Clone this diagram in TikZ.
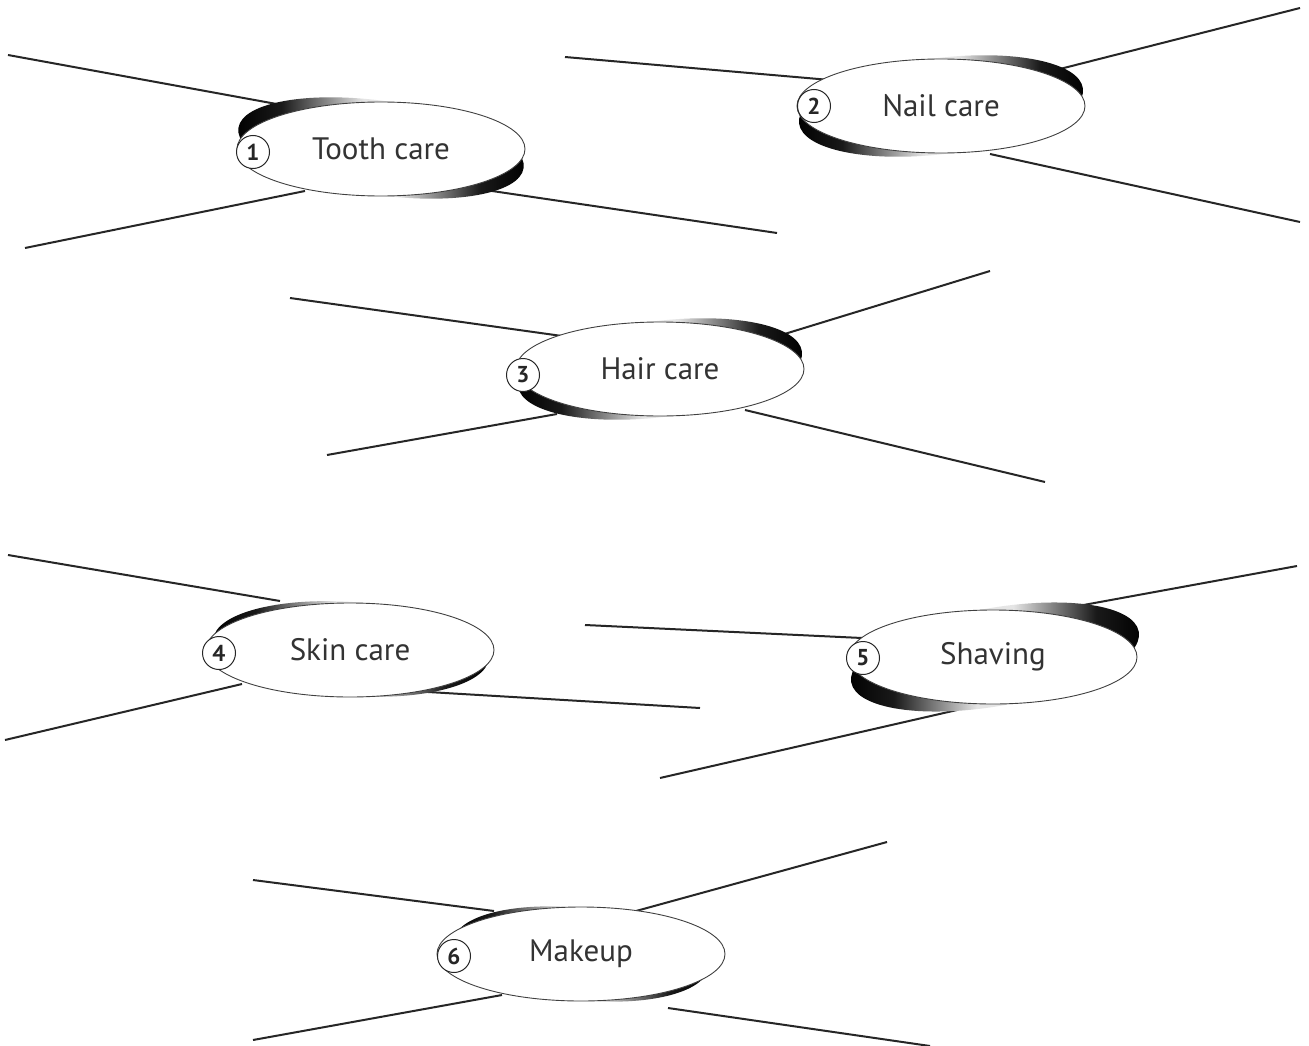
\documentclass[tikz,border=0pt]{standalone}
\usepackage{fontspec}
\setmainfont{PT Sans}
\usetikzlibrary{shapes.geometric}
\pgfdeclarehorizontalshading{rimshade}{100bp}{color(0bp)=(black); color(25bp)=(black); color(33bp)=(black!90); color(41bp)=(black!45); color(47bp)=(black!10); color(53bp)=(black!10); color(59bp)=(black!45); color(67bp)=(black!90); color(75bp)=(black); color(100bp)=(black)}
% #1,#2 centre, #3 angle, #4,#5 radii, #6 shift
\newcommand{\rimshadow}[6]{\shade[shading=rimshade, shift={#6}, rotate around={#3:(#1,#2)}] (#1,#2) ellipse [x radius=#4pt, y radius=#5pt];}
\begin{document}
\begin{tikzpicture}[x=1pt,y=-1pt,
  wire/.style={line width=2pt, draw=black!85},
  topic/.style={ellipse, draw=black!75, line width=0.9pt, fill=white, inner sep=0pt,
    minimum width=288pt, minimum height=94pt, text=black!80,
    font=\fontsize{31}{36}\selectfont},
  numcircle/.style={circle, draw=black!85, line width=1pt, fill=white, inner sep=0pt,
    minimum size=33pt, text=black!85, font=\bfseries\fontsize{23}{27}\selectfont}]
\useasboundingbox (0,0) rectangle (1309,1046);
\fill[white] (0,0) rectangle (1309,1046);

% connector ends
\coordinate (a1) at (8,55);    \coordinate (a2) at (282,105);
\coordinate (a3) at (25,248);  \coordinate (a4) at (305,191);
\coordinate (a5) at (492,191); \coordinate (a6) at (777,233);
\coordinate (b1) at (565,57);  \coordinate (b2) at (830,80);
\coordinate (b3) at (1052,71); \coordinate (b4) at (1300,8);
\coordinate (b5) at (990,154); \coordinate (b6) at (1300,222);
\coordinate (c1) at (290,298); \coordinate (c2) at (562,336);
\coordinate (c3) at (778,336); \coordinate (c4) at (990,271);
\coordinate (c5) at (327,455); \coordinate (c6) at (557,414);
\coordinate (c7) at (745,410); \coordinate (c8) at (1045,482);
\coordinate (d1) at (8,555);   \coordinate (d2) at (280,601);
\coordinate (d3) at (5,740);   \coordinate (d4) at (242,684);
\coordinate (d5) at (428,692); \coordinate (d6) at (700,708);
\coordinate (e1) at (585,625); \coordinate (e2) at (862,638);
\coordinate (e3) at (1078,606);\coordinate (e4) at (1297,566);
\coordinate (e5) at (660,778); \coordinate (e6) at (957,710);
\coordinate (f1) at (253,880); \coordinate (f2) at (494,911);
\coordinate (f3) at (636,911); \coordinate (f4) at (887,842);
\coordinate (f5) at (253,1040);\coordinate (f6) at (502,995);
\coordinate (f7) at (668,1008);\coordinate (f8) at (930,1046);

\draw[wire] (a1) -- (a2); \draw[wire] (a3) -- (a4); \draw[wire] (a5) -- (a6);
\draw[wire] (b1) -- (b2); \draw[wire] (b3) -- (b4); \draw[wire] (b5) -- (b6);
\draw[wire] (c1) -- (c2); \draw[wire] (c3) -- (c4); \draw[wire] (c5) -- (c6); \draw[wire] (c7) -- (c8);
\draw[wire] (d1) -- (d2); \draw[wire] (d3) -- (d4); \draw[wire] (d5) -- (d6);
\draw[wire] (e1) -- (e2); \draw[wire] (e3) -- (e4); \draw[wire] (e5) -- (e6);
\draw[wire] (f1) -- (f2); \draw[wire] (f3) -- (f4); \draw[wire] (f5) -- (f6); \draw[wire] (f7) -- (f8);

% shadows
\rimshadow{381}{149}{-8}{144}{47}{(0,-1)}
\rimshadow{941}{106}{7}{143}{48}{(0,0)}
\rimshadow{660}{369}{7}{143}{48}{(0,0)}
\rimshadow{351}{650}{-4}{138}{47}{(0,-1)}
\rimshadow{993}{657}{10}{146}{49}{(2,0)}
\rimshadow{581}{954}{-6}{128}{46}{(0,0)}

% topics
\node[topic] (t1) at (381,149) {Tooth care};
\node[topic] (t2) at (941,106) {Nail care};
\node[topic] (t3) at (660,369) {Hair care};
\node[topic] (t4) at (350,650) {Skin care};
\node[topic] (t5) at (993,657) {Shaving};
\node[topic] (t6) at (581,954) {Makeup};

\node[numcircle] (n1) at (253,152) {1};
\node[numcircle] (n2) at (814,106) {2};
\node[numcircle] (n3) at (523,375) {3};
\node[numcircle] (n4) at (219,653) {4};
\node[numcircle] (n5) at (863,658) {5};
\node[numcircle] (n6) at (454,956) {6};
\end{tikzpicture}
\end{document}
